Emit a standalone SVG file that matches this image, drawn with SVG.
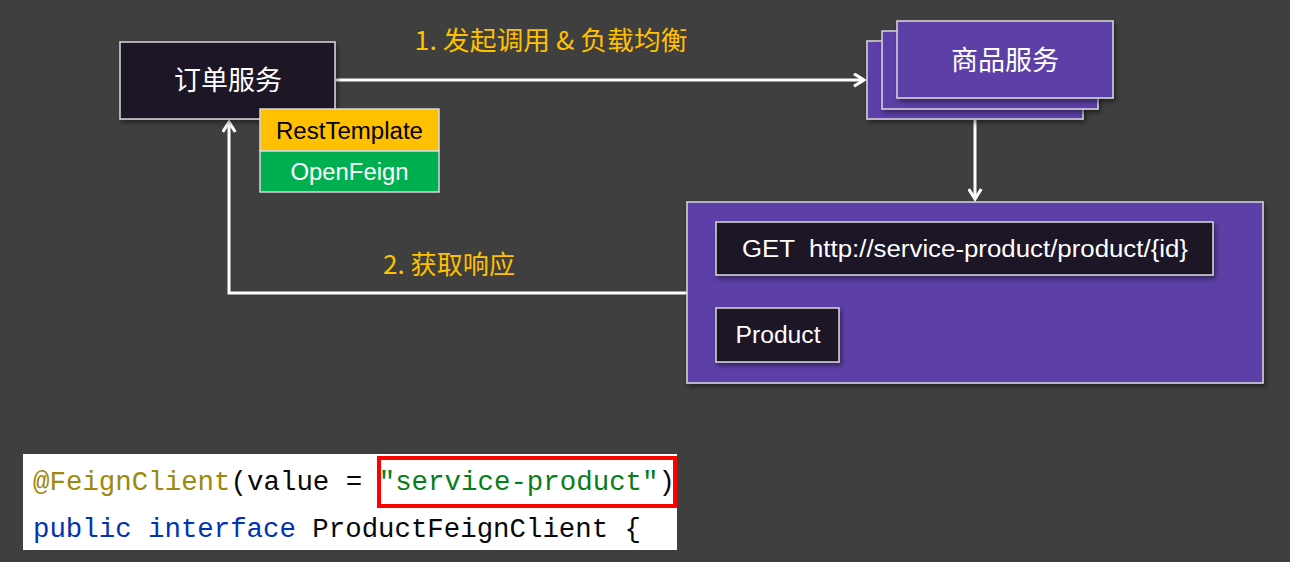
<svg xmlns="http://www.w3.org/2000/svg" width="1290" height="562" viewBox="0 0 1290 562">
<style>
.dark{fill:#1f1328;stroke:#d9d9d9;stroke-width:1.5}
.purple{fill:#5b40a8;stroke:#d9d9d9;stroke-width:1.5}
.t{font-family:"Liberation Sans","Noto Sans CJK SC",sans-serif;fill:#ffffff;text-anchor:middle;font-size:23px}
.cjk{font-family:"Noto Sans CJK SC",sans-serif;fill:#ffffff;text-anchor:middle;font-size:27px}
.lbl{font-family:"Noto Sans CJK SC",sans-serif;fill:#ffc000;font-size:26px;text-anchor:middle}
.conn{fill:none;stroke:#ffffff;stroke-width:3}
.code{font-family:"Liberation Mono","DejaVu Sans Mono",monospace;font-size:27px}
</style>
<defs>
<marker id="arr" viewBox="0 0 12 12" refX="10" refY="6" markerWidth="5" markerHeight="5" orient="auto" markerUnits="strokeWidth">
<polyline points="2,1 10,6 2,11" fill="none" stroke="#ffffff" stroke-width="2.5"/>
</marker>
<filter id="sh" x="-10%" y="-10%" width="130%" height="140%">
<feDropShadow dx="2" dy="3" stdDeviation="2.5" flood-color="#000" flood-opacity="0.45"/>
</filter>
</defs>
<rect width="1290" height="562" fill="#3f3f3f"/>

<g id="connectors">
<line class="conn" x1="336" y1="80" x2="864" y2="80" marker-end="url(#arr)"/>
<line class="conn" x1="975" y1="120" x2="975" y2="199" marker-end="url(#arr)"/>
<polyline class="conn" points="687,293 229,293 229,122" marker-end="url(#arr)"/>
<text class="lbl" x="551" y="50" textLength="273" lengthAdjust="spacingAndGlyphs">1. 发起调用 &amp; 负载均衡</text>
<text class="lbl" x="449" y="274" textLength="132" lengthAdjust="spacingAndGlyphs">2. 获取响应</text>
</g>

<g id="order-service">
<rect class="dark" x="120" y="42" width="215" height="77" filter="url(#sh)"/>
<text class="cjk" x="228" y="90">订单服务</text>
</g>

<g id="rest-template">
<rect x="260" y="109" width="179" height="42" fill="#ffc000" stroke="#d9d9d9" stroke-width="1.5"/>
<text class="t" x="349.5" y="139" style="fill:#000" textLength="147" lengthAdjust="spacingAndGlyphs">RestTemplate</text>
</g>

<g id="open-feign">
<rect x="260" y="151" width="179" height="41" fill="#00b050" stroke="#d9d9d9" stroke-width="1.5"/>
<text class="t" x="349.5" y="180" textLength="118" lengthAdjust="spacingAndGlyphs">OpenFeign</text>
</g>

<g id="product-service">
<rect class="purple" x="867" y="41" width="216" height="78" filter="url(#sh)"/>
<rect class="purple" x="882" y="31" width="216" height="78" filter="url(#sh)"/>
<rect class="purple" x="897" y="21" width="216" height="77" filter="url(#sh)"/>
<text class="cjk" x="1005" y="70">商品服务</text>
</g>

<g id="product-endpoint">
<rect class="purple" x="687" y="202" width="576" height="181" filter="url(#sh)"/>
</g>

<g id="get-request">
<rect class="dark" x="716" y="222" width="497" height="53" filter="url(#sh)"/>
<text class="t" x="965" y="257" xml:space="preserve" textLength="446" lengthAdjust="spacingAndGlyphs">GET  http://service-product/product/{id}</text>
</g>

<g id="product">
<rect class="dark" x="716" y="308" width="123" height="54" filter="url(#sh)"/>
<text class="t" x="778" y="343" textLength="85" lengthAdjust="spacingAndGlyphs">Product</text>
</g>

<g id="code">
<rect x="23" y="454" width="654" height="96" fill="#ffffff"/>
<text class="code" x="33" y="490" textLength="642" lengthAdjust="spacingAndGlyphs" xml:space="preserve"><tspan fill="#9e880d">@FeignClient</tspan><tspan fill="#080808">(value = </tspan><tspan fill="#067d17">"service-product"</tspan><tspan fill="#080808">)</tspan></text>
<text class="code" x="33" y="537" textLength="608" lengthAdjust="spacingAndGlyphs" xml:space="preserve"><tspan fill="#0033b3">public interface </tspan><tspan fill="#080808">ProductFeignClient {</tspan></text>
<rect x="379" y="458" width="296" height="48" fill="none" stroke="#ff0000" stroke-width="4"/>
</g>
</svg>
